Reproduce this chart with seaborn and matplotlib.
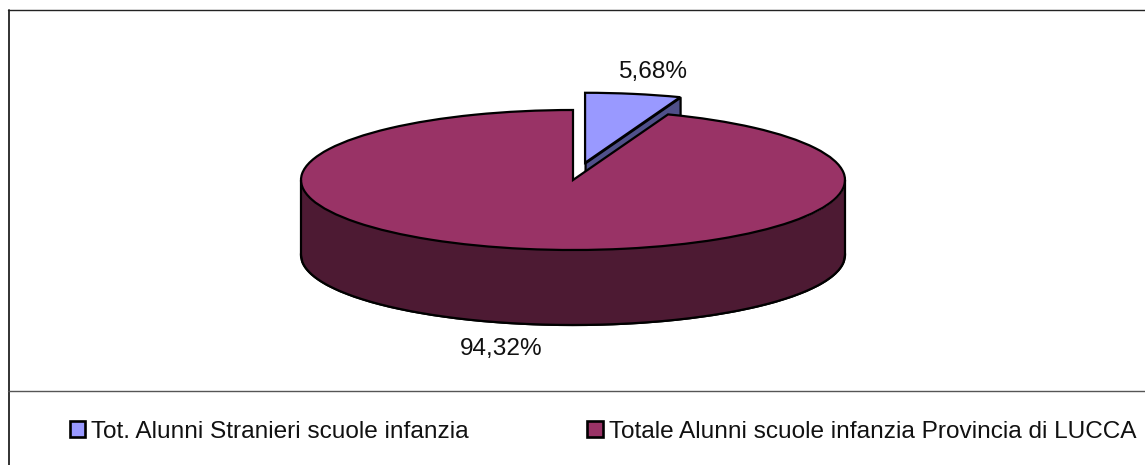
import matplotlib.pyplot as plt
import numpy as np
import seaborn as sns
from matplotlib.lines import Line2D

categories = [
    "Tot. Alunni Stranieri scuole infanzia",
    "Totale Alunni scuole infanzia Provincia di LUCCA",
]
percentages = [5.68, 94.32]
top_colors = ["#9999FF", "#993366"]
side_colors = ["#50508A", "#4D1A33"]

WIDTH, HEIGHT = 1145, 465
CX, CY = 573, 180  # pie centre in pixels
RX, RY = 272, 70
DEPTH = 75 / RY
EXPLODE = 0.25
LINE = 1.6
FONT = 17.6

sns.set_theme(style="white")
plt.rcParams["font.family"] = ["Liberation Sans", "DejaVu Sans"]

fig = plt.figure(figsize=(WIDTH / 100, HEIGHT / 100), dpi=100, facecolor="white")
ax = fig.add_axes([0, 0, 1, 1])
edge = {"edgecolor": "black", "linewidth": LINE}

# side of the detached slice, mostly hidden by the big slice
angle = np.pi / 2 - 2 * np.pi * percentages[0] / 100
mid = np.pi / 2 - np.pi * percentages[0] / 100
tip_x, tip_y = EXPLODE * np.cos(mid), EXPLODE * np.sin(mid)
xs = np.array([tip_x, tip_x + np.cos(angle)])
ys = np.array([tip_y, tip_y + np.sin(angle)])
ax.fill_between(xs, ys, ys - DEPTH, facecolor=side_colors[0], **edge)

# body of the big slice
ax.pie([100], colors=[side_colors[1]], center=(0, -DEPTH), startangle=90, wedgeprops=edge)
front = np.linspace(-1, 1, 400)
curve = -np.sqrt(1 - front**2)
ax.fill_between(front, curve, curve - DEPTH, color=side_colors[1], linewidth=0)
ax.plot(front, curve - DEPTH, color="black", lw=LINE)
ax.plot([-1, -1], [0, -DEPTH], color="black", lw=LINE)
ax.plot([1, 1], [0, -DEPTH], color="black", lw=LINE)

wedges, _ = ax.pie(
    percentages,
    colors=top_colors,
    explode=[EXPLODE, 0],
    startangle=90,
    counterclock=False,
    wedgeprops=edge,
)

ax.set_aspect("auto")
ax.set_xlim(-CX / RX, (WIDTH - CX) / RX)
ax.set_ylim((CY - HEIGHT) / RY, CY / RY)
ax.axis("off")


def pixel(x, y):
    return (x - CX) / RX, (CY - y) / RY


for value, pos in zip(percentages, [(653, 72), (501, 349)]):
    label = f"{value:.2f}".replace(".", ",") + "%"
    ax.text(*pixel(*pos), label, ha="center", va="center", fontsize=FONT, color="#111111")

legend = ax.legend(
    wedges,
    categories,
    ncol=2,
    loc="center left",
    bbox_to_anchor=(70 / WIDTH, 1 - 431.5 / HEIGHT),
    frameon=False,
    fontsize=FONT,
    handlelength=0.62,
    handleheight=0.62,
    handletextpad=0.25,
    columnspacing=4.85,
    borderpad=0,
    borderaxespad=0,
    labelcolor="#111111",
)
for patch in legend.get_patches():
    patch.set_linewidth(1.9)

# chart frame: the picture is cropped on the right and at the bottom
frame = "#222222"
fig.add_artist(Line2D([8.5 / WIDTH, 8.5 / WIDTH], [0, 1 - 10.5 / HEIGHT], color=frame, lw=1.3))
fig.add_artist(Line2D([8 / WIDTH, 1], [1 - 10.5 / HEIGHT, 1 - 10.5 / HEIGHT], color=frame, lw=1))
fig.add_artist(Line2D([8 / WIDTH, 1], [1 - 390.5 / HEIGHT, 1 - 390.5 / HEIGHT], color="#555555", lw=1))

fig.savefig("out.png", dpi=100)
